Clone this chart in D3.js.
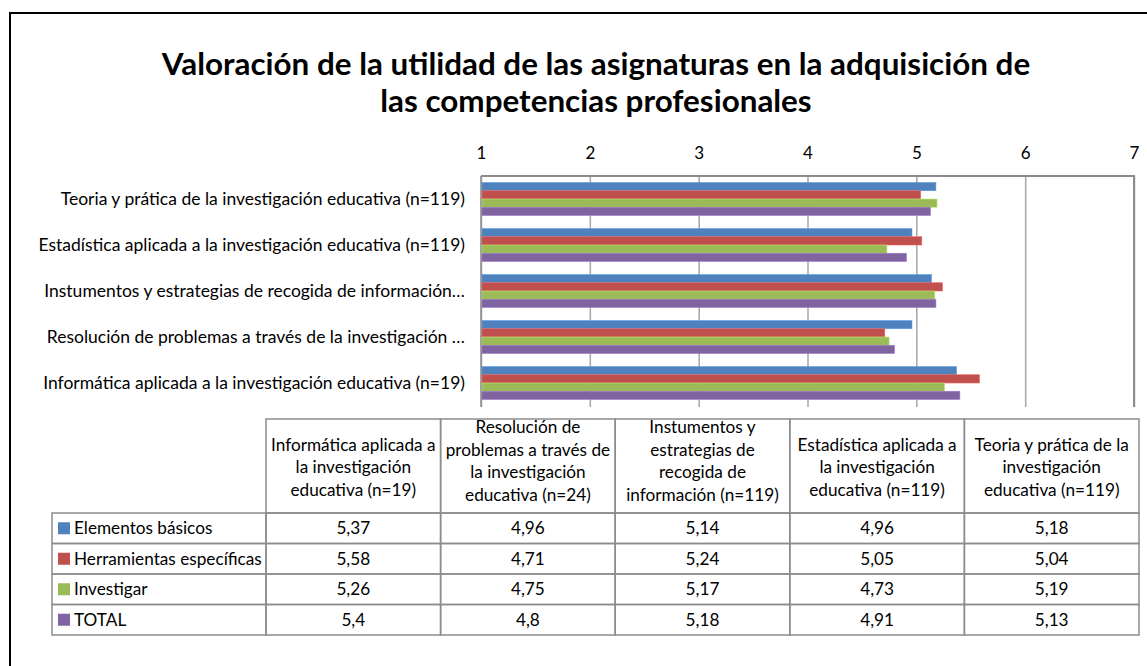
<!DOCTYPE html>
<html>
<head>
<meta charset="utf-8">
<script src="https://cdnjs.cloudflare.com/ajax/libs/d3/7.8.5/d3.min.js"></script>
<style>
  body { margin: 0; background: #fff; }
  svg { display: block; font-family: Lato, "Noto Sans", sans-serif; }
</style>
</head>
<body>
<svg id="chart" width="1147" height="666"></svg>
<script>
// categories in table order (chart draws them bottom-up)
const categories = [
  'Informática aplicada a la investigación educativa (n=19)',
  'Resolución de problemas a través de la investigación educativa (n=24)',
  'Instumentos y estrategias de recogida de información (n=119)',
  'Estadística aplicada a la investigación educativa (n=119)',
  'Teoria y prática de la investigación educativa (n=119)'
]
const axisLabels = [
  'Informática aplicada a la investigación educativa (n=19)',
  'Resolución de problemas a través de la investigación …',
  'Instumentos y estrategias de recogida de información…',
  'Estadística aplicada a la investigación educativa (n=119)',
  'Teoria y prática de la investigación educativa (n=119)'
]
const headerLines = [
  ['Informática aplicada a', 'la investigación', 'educativa (n=19)'],
  ['Resolución de', 'problemas a través de', 'la investigación', 'educativa (n=24)'],
  ['Instumentos y', 'estrategias de', 'recogida de', 'información (n=119)'],
  ['Estadística aplicada a', 'la investigación', 'educativa (n=119)'],
  ['Teoria y prática de la', 'investigación', 'educativa (n=119)']
]
const seriesNames = ['Elementos básicos', 'Herramientas específicas', 'Investigar', 'TOTAL']
const elementosBasicos = [5.37, 4.96, 5.14, 4.96, 5.18]
const herramientas = [5.58, 4.71, 5.24, 5.05, 5.04]
const investigar = [5.26, 4.75, 5.17, 4.73, 5.19]
const total = [5.4, 4.8, 5.18, 4.91, 5.13]
const seriesValues = [elementosBasicos, herramientas, investigar, total]
const colors = ['#4F81BD', '#C0504D', '#9BBB59', '#8064A2']
const tickValues = [1, 2, 3, 4, 5, 6, 7]

const svg = d3.select('#chart')

// outer frame
svg.append('rect').attr('x', 10).attr('y', 13).attr('width', 1200).attr('height', 700)
  .attr('fill', 'none').attr('stroke', '#000').attr('stroke-width', 2)

// title
const title = svg.append('text').attr('text-anchor', 'middle')
  .style('font-weight', 'bold').style('font-size', '31.4px').attr('fill', '#000')
title.append('tspan').attr('x', 596).attr('y', 75).text('Valoración de la utilidad de las asignaturas en la adquisición de')
title.append('tspan').attr('x', 596).attr('y', 112).text('las competencias profesionales')

// plot area
const plot = { left: 481, right: 1134, top: 176, bottom: 406 }
const x = d3.scaleLinear().domain([1, 7]).range([plot.left, plot.right])
const y0 = d3.scaleBand().domain(categories.slice().reverse())
  .range([plot.top, plot.bottom]).paddingInner(0.283).paddingOuter(0.1415)
const y1 = d3.scaleBand().domain(seriesNames).range([0, y0.bandwidth()])

const xAxis = svg.append('g').attr('transform', `translate(0,${plot.top})`)
  .call(d3.axisTop(x).tickValues(tickValues).tickFormat(d3.format('d'))
    .tickSizeInner(-(plot.bottom - plot.top + 1)).tickSizeOuter(0).tickPadding(17))
xAxis.select('.domain').remove()
xAxis.selectAll('.tick line').attr('stroke', '#a6a6a6').attr('stroke-width', 1.5)
xAxis.selectAll('.tick text').style('font-size', '17px').style('font-family', 'Lato').attr('fill', '#000')

// plot border top / right, axis left
svg.append('line').attr('x1', plot.left).attr('x2', plot.right + 1).attr('y1', plot.top).attr('y2', plot.top)
  .attr('stroke', '#8c8c8c').attr('stroke-width', 2)
svg.append('line').attr('x1', plot.right).attr('x2', plot.right).attr('y1', plot.top).attr('y2', plot.bottom + 1)
  .attr('stroke', '#8c8c8c').attr('stroke-width', 2)
svg.append('line').attr('x1', plot.left).attr('x2', plot.left).attr('y1', plot.top).attr('y2', plot.bottom + 1)
  .attr('stroke', '#8c8c8c').attr('stroke-width', 1.5)

// bars
const groups = svg.append('g').selectAll('g').data(categories).join('g')
  .attr('transform', d => `translate(0,${y0(d)})`)
groups.selectAll('rect').data((d, i) => seriesNames.map((s, j) => ({ s: s, v: seriesValues[j][i], j: j })))
  .join('rect')
  .attr('x', x(1) + 1)
  .attr('y', d => y1(d.s))
  .attr('width', d => x(d.v) - x(1) - 1)
  .attr('height', y1.bandwidth())
  .attr('fill', d => colors[d.j])
  .attr('stroke', d => d3.color(colors[d.j]).brighter(0.6))
  .attr('stroke-width', 0.6)

// category labels
svg.append('g').selectAll('text').data(categories).join('text')
  .attr('x', 465).attr('y', d => y0(d) + y0.bandwidth() / 2)
  .attr('dy', '0.35em').attr('text-anchor', 'end')
  .style('font-size', '17.5px').attr('fill', '#000')
  .text((d, i) => axisLabels[i])

// data table
const colX = d3.scaleBand().domain(categories).range([266, 1139])
const legendLeft = 52
const headTop = 419, headBottom = 513
const rowY = d3.scaleBand().domain(seriesNames).range([headBottom, 635])
const grid = '#8c8c8c'
const table = svg.append('g')

// header cells
table.selectAll('rect.head').data(categories).join('rect').attr('class', 'head')
  .attr('x', d => colX(d)).attr('y', headTop).attr('width', colX.bandwidth()).attr('height', headBottom - headTop)
  .attr('fill', 'none').attr('stroke', grid).attr('stroke-width', 1.5)
// body cells
seriesNames.forEach(function (s, j) {
  table.append('rect').attr('x', legendLeft).attr('y', rowY(s)).attr('width', 266 - legendLeft).attr('height', rowY.bandwidth())
    .attr('fill', 'none').attr('stroke', grid).attr('stroke-width', 1.5)
  categories.forEach(function (c) {
    table.append('rect').attr('x', colX(c)).attr('y', rowY(s)).attr('width', colX.bandwidth()).attr('height', rowY.bandwidth())
      .attr('fill', 'none').attr('stroke', grid).attr('stroke-width', 1.5)
  })
})

// header text
categories.forEach(function (c, i) {
  const lines = headerLines[i]
  const lh = 22.5
  const mid = lines.length === 4 ? 461 : 467
  const t = table.append('text').attr('text-anchor', 'middle').style('font-size', '17.2px').attr('fill', '#000')
  lines.forEach(function (ln, k) {
    t.append('tspan').attr('x', colX(c) + colX.bandwidth() / 2)
      .attr('y', mid + (k - (lines.length - 1) / 2) * lh).attr('dy', '0.35em').text(ln)
  })
})

// legend keys + values
seriesNames.forEach(function (s, j) {
  const cy = rowY(s) + rowY.bandwidth() / 2
  table.append('rect').attr('x', 58).attr('y', cy - 6).attr('width', 12).attr('height', 12).attr('fill', colors[j])
  table.append('text').attr('x', 74).attr('y', cy).attr('dy', '0.35em')
    .style('font-size', '17.2px').attr('fill', '#000').text(s)
  categories.forEach(function (c, i) {
    table.append('text').attr('x', colX(c) + colX.bandwidth() / 2).attr('y', cy).attr('dy', '0.35em')
      .attr('text-anchor', 'middle').style('font-size', '17.2px').attr('fill', '#000')
      .text(String(seriesValues[j][i]).replace('.', ','))
  })
})
</script>
</body>
</html>
